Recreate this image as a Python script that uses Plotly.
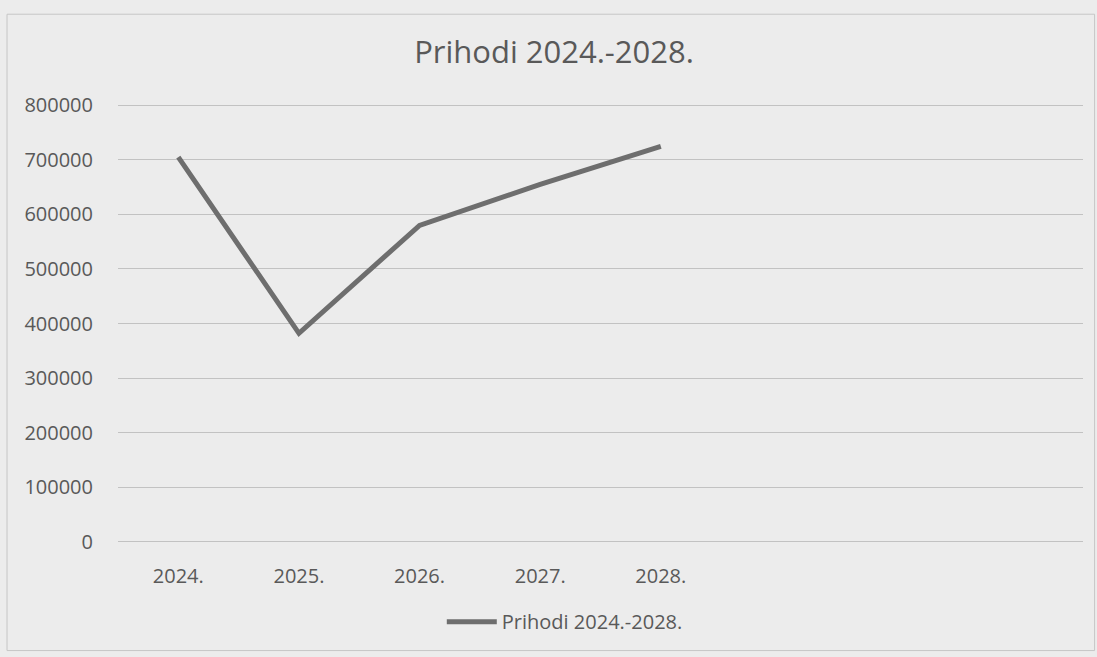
import plotly.graph_objects as go

categories = ["2024.", "2025.", "2026.", "2027.", "2028."]
values = [705000, 382000, 580000, 655000, 725000]
series_name = "Prihodi 2024.-2028."
title_text = "Prihodi 2024.-2028."
y_ticks = [0, 100000, 200000, 300000, 400000, 500000, 600000, 700000, 800000]

text_color = "#595959"
font_family = "Open Sans, Lato, sans-serif"

fig = go.Figure()
fig.add_trace(go.Scatter(
    x=categories, y=values, mode="lines", name=series_name,
    line=dict(color="#6e6e6e", width=5),
))

# plot area ~ y 101..546 px, x 118..1083 px
fig.update_layout(
    width=1097, height=657,
    paper_bgcolor="#ececec", plot_bgcolor="#ececec",
    margin=dict(l=118, r=14, t=101, b=111),
    title=dict(text=title_text, x=0.505, xanchor="center", y=0.921, yanchor="middle",
               font=dict(family=font_family, size=31, color=text_color)),
    font=dict(family=font_family, color=text_color),
    showlegend=True,
    legend=dict(orientation="h", x=0.463, xanchor="center", y=-0.17, yanchor="middle",
                font=dict(size=20, color=text_color), itemwidth=50, bgcolor="rgba(0,0,0,0)"),
    shapes=[dict(type="rect", xref="paper", yref="paper", x0=-0.115, x1=1.012, y0=-0.235, y1=1.195,
                 line=dict(color="#c6c6c6", width=1), layer="below")],
)
fig.update_xaxes(
    type="category", range=[-0.5, 7.5], showgrid=False, showline=False, zeroline=False,
    ticks="", tickfont=dict(size=20, color=text_color), ticklabelstandoff=16,
)
fig.update_yaxes(
    range=[-8000, 808000], tickvals=y_ticks, ticktext=[str(v) for v in y_ticks],
    showgrid=True, gridcolor="#c2c2c2", gridwidth=1, zeroline=False, showline=False,
    ticks="", tickfont=dict(size=20, color=text_color), ticklabelstandoff=24,
)

fig.write_html("out.html")
